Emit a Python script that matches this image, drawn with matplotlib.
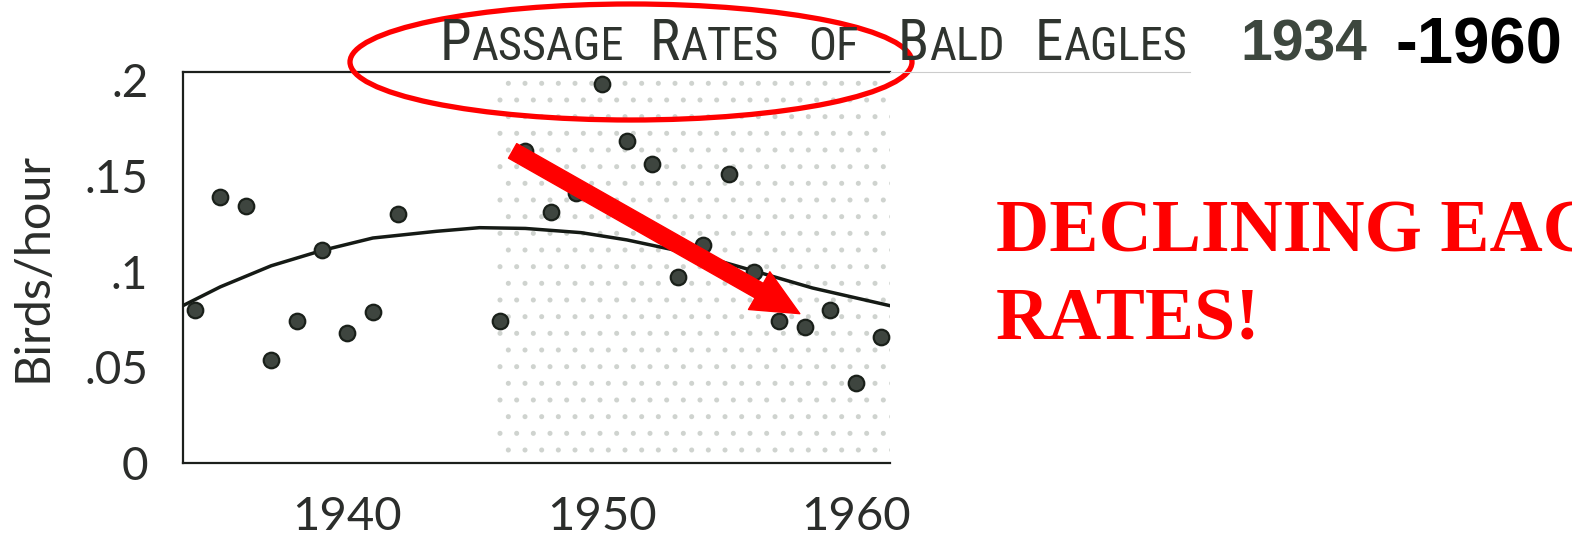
import matplotlib
matplotlib.use("Agg")
import matplotlib.pyplot as plt
from matplotlib import font_manager
from matplotlib.patches import Ellipse
from matplotlib.lines import Line2D

# ---------------- data ----------------
years = [1934, 1935, 1936, 1937, 1938, 1939, 1940, 1941, 1942,
         1946, 1947, 1948, 1949, 1950, 1951, 1952, 1953, 1954,
         1955, 1956, 1957, 1958, 1959, 1960, 1961]
rates = [0.080, 0.139, 0.134, 0.054, 0.074, 0.111, 0.068, 0.079, 0.130,
         0.074, 0.163, 0.131, 0.141, 0.198, 0.168, 0.156, 0.097, 0.114,
         0.151, 0.100, 0.074, 0.071, 0.080, 0.042, 0.066]

trend_years = [1933.5, 1935.0, 1937.0, 1939.0, 1941.0, 1943.5, 1945.2,
               1947.0, 1949.2, 1951.0, 1952.7, 1954.5, 1956.0, 1958.3, 1961.4]
trend_vals = [0.082, 0.092, 0.103, 0.111, 0.1175, 0.121, 0.1229,
              0.1225, 0.1203, 0.1165, 0.1117, 0.1060, 0.1003, 0.0914, 0.0820]

yticks = [0, 0.05, 0.1, 0.15, 0.2]
ytick_labels = ["0", ".05", ".1", ".15", ".2"]
xticks = [1940, 1950, 1960]
xtick_labels = ["1940", "1950", "1960"]

shade_start = 1945.9
arrow_from = (1946.5, 0.163)
arrow_to = (1957.8, 0.078)

# ---------------- fonts ----------------
avail = {f.name for f in font_manager.fontManager.ttflist}
def pick(*names):
    for n in names:
        if n in avail:
            return n
    return "DejaVu Sans"

f_axis = pick("Lato", "Open Sans", "Noto Sans")
f_title = pick("Liberation Sans Narrow", "Roboto Condensed", "DejaVu Sans")
f_bold = pick("Liberation Sans", "Arial", "DejaVu Sans")
f_serif = pick("Liberation Serif", "DejaVu Serif")

W, H = 1572, 542
fig = plt.figure(figsize=(W / 100, H / 100), dpi=100)
fig.patch.set_facecolor("white")

ax_l, ax_r, ax_t, ax_b = 183, 890, 72, 463
ax = fig.add_axes([ax_l / W, 1 - ax_b / H, (ax_r - ax_l) / W, (ax_b - ax_t) / H])
ax.set_xlim(1933.53, 1961.35)
ax.set_ylim(0, 0.2042)

plt.rcParams["hatch.linewidth"] = 1.2
ax.axvspan(shade_start, 1961.35, facecolor="white", edgecolor="#cfd3cf",
           hatch=".", linewidth=0, zorder=0)

ax.plot(trend_years, trend_vals, color="#151a15", lw=2.5, zorder=3,
        solid_capstyle="round", solid_joinstyle="round")
ax.scatter(years, rates, s=125, facecolor="#3e453f", edgecolor="#1a201a",
           linewidth=1.6, zorder=4)

ax.spines["right"].set_visible(False)
for s in ["left", "bottom", "top"]:
    ax.spines[s].set_linewidth(1.6)
    ax.spines[s].set_color("#1c1f1c")

ax.set_yticks(yticks)
ax.set_yticklabels(ytick_labels)
ax.set_xticks(xticks)
ax.set_xticklabels(xtick_labels)
ax.tick_params(axis="both", length=0)
ax.tick_params(axis="y", pad=25, labelsize=33)
ax.tick_params(axis="x", pad=24, labelsize=34)
for lab in ax.get_xticklabels() + ax.get_yticklabels():
    lab.set_fontfamily(f_axis)
    lab.set_fontweight("normal")
    lab.set_color("#2b2d2b")

fig.text(33 / W, 1 - 267 / H, "Birds/hour", rotation=90, fontsize=35,
         family=f_axis, fontweight="normal", color="#2b2d2b",
         ha="center", va="center")

# arrow
ax.annotate("", xy=arrow_to, xytext=arrow_from,
            arrowprops=dict(arrowstyle="simple,head_length=1.4,head_width=1.3,tail_width=0.5",
                            mutation_scale=24, color="#ff0000", shrinkA=0, shrinkB=0),
            zorder=6)

# thin rule extending the top line under title
fig.add_artist(Line2D([ax_r / W, 1190 / W], [1 - ax_t / H, 1 - ax_t / H],
                      color="#cccccc", lw=0.8))

# title in small caps
r = fig.canvas.get_renderer()
title_col = "#2f342f"
base = 1 - 60 / H
def word(x_px, big, small, bs=41, ss=33.5):
    x = x_px / W
    if big:
        t = fig.text(x, base, big, fontsize=bs, family=f_title, color=title_col,
                     ha="left", va="baseline")
        x = t.get_window_extent(r).x1 / W
    if small:
        fig.text(x, base, small, fontsize=ss, family=f_title, color=title_col,
                 ha="left", va="baseline")

word(440, "P", "ASSAGE")
word(650, "R", "ATES")
word(808, "", "OF")
word(898, "B", "ALD")
word(1035, "E", "AGLES")
fig.text(1240 / W, base, "1934", fontsize=41, family=f_bold, fontweight="bold",
         color="#3d473e", ha="left", va="baseline")
fig.text(1395 / W, 1 - 64 / H, "-1960", fontsize=47, family=f_bold,
         fontweight="bold", color="black", ha="left", va="baseline")

# red ellipse
fig.add_artist(Ellipse((631 / W, 1 - 62 / H), 562 / W, 116 / H, fill=False,
                       edgecolor="#ff0000", lw=3.8, transform=fig.transFigure))

# red annotation
fig.text(996 / W, 1 - 252 / H, "DECLINING EAGLE", fontsize=53, family=f_serif,
         fontweight="bold", color="#ff0000", ha="left", va="baseline")
fig.text(996 / W, 1 - 340 / H, "RATES!", fontsize=53, family=f_serif,
         fontweight="bold", color="#ff0000", ha="left", va="baseline")

fig.savefig("out.png", dpi=100, facecolor="white")
